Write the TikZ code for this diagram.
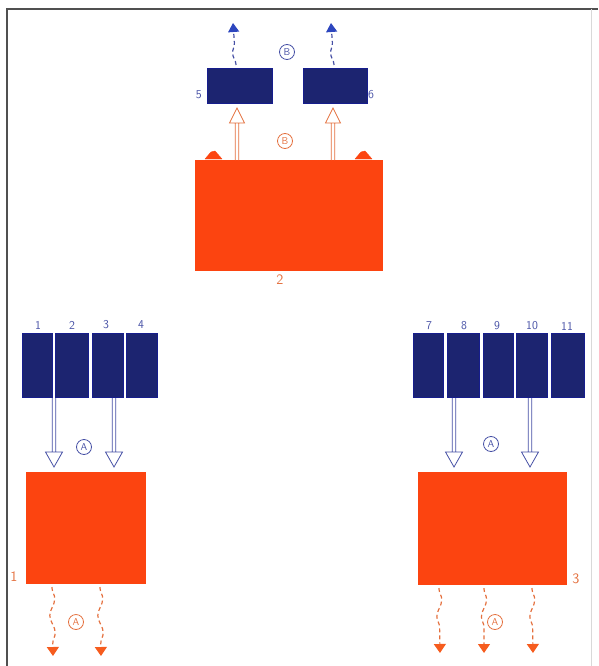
\documentclass[tikz,border=0pt]{standalone}
\usetikzlibrary{arrows.meta,decorations.pathmorphing}
\definecolor{navy}{RGB}{28,36,112}
\definecolor{blueline}{RGB}{70,80,165}
\definecolor{bluetip}{RGB}{45,70,190}
\definecolor{orfill}{RGB}{252,68,16}
\definecolor{orline}{RGB}{228,112,62}
\definecolor{ortip}{RGB}{246,92,30}
\definecolor{frame}{RGB}{80,80,80}
\tikzset{
  bluebox/.style={fill=navy, draw=navy!80!blue, line width=0.6pt, inner sep=0pt},
  orbox/.style={fill=orfill, draw=orfill, inner sep=0pt},
  numb/.style={font=\sffamily\large, text=blueline, inner sep=1pt},
  numo/.style={font=\sffamily\Large, text=orline, inner sep=1pt},
  circb/.style={circle, draw=blueline, text=blueline, line width=0.8pt, font=\sffamily\normalsize, inner sep=0.5pt, minimum size=15pt},
  circo/.style={circle, draw=orline, text=orline, line width=0.8pt, font=\sffamily\normalsize, inner sep=0.5pt, minimum size=15pt},
  hollowdown/.style={line width=0.8pt, fill=white, line join=miter,
    to path={([xshift=-1.7pt]\tikztostart) -- ([xshift=-1.7pt,yshift=15pt]\tikztotarget)
      ([xshift=1.7pt]\tikztostart) -- ([xshift=1.7pt,yshift=15pt]\tikztotarget)
      ([xshift=-8.5pt,yshift=15pt]\tikztotarget) -- (\tikztotarget) -- ([xshift=8.5pt,yshift=15pt]\tikztotarget) -- cycle}},
  hollowup/.style={line width=0.8pt, fill=white, line join=miter,
    to path={([xshift=-1.7pt]\tikztostart) -- ([xshift=-1.7pt,yshift=-15pt]\tikztotarget)
      ([xshift=1.7pt]\tikztostart) -- ([xshift=1.7pt,yshift=-15pt]\tikztotarget)
      ([xshift=-7.5pt,yshift=-15pt]\tikztotarget) -- (\tikztotarget) -- ([xshift=7.5pt,yshift=-15pt]\tikztotarget) -- cycle}},
  wavy/.style={line width=1.2pt, dash pattern=on 4pt off 3pt,
    decorate, decoration={snake, amplitude=2.6pt, segment length=34pt, pre length=1pt, post length=9pt}},
  wavyo/.style={wavy, draw=orline, -{Triangle[length=9pt,width=12pt,color=ortip]}},
  wavyb/.style={wavy, draw=blueline, -{Triangle[length=9pt,width=11pt,color=bluetip]}},
  bump/.style={fill=orfill, draw=orfill, line join=round}
}
\begin{document}
\begin{tikzpicture}[x=1pt,y=-1pt]
\useasboundingbox (0,0) rectangle (598,666);
% frame
\draw[frame, line width=1.4pt] (7,666) -- (7,9) -- (598,9);
\draw[black!15, line width=0.6pt] (591,9) -- (591,666);

% ---------- top group ----------
\node[bluebox, minimum width=65pt, minimum height=35pt] (b5) at (239.5,85.5) {};
\node[bluebox, minimum width=64pt, minimum height=35pt] (b6) at (335,85.5) {};
\node[numb, anchor=east] at (203,95) {5};
\node[numb, anchor=west] at (367,95) {6};
\node[orbox, minimum width=187pt, minimum height=110pt] (o2) at (288.5,215) {};
\node[numo] at (280,280) {2};
% terminals
\draw[bump] (205,159) -- (211,152) -- (215,151) -- (222,159) -- cycle;
\draw[bump] (355,159) -- (361,152) -- (365,151) -- (372,159) -- cycle;
\node[circb] (B1) at (287,52) {B};
\node[circo] (B2) at (285,141) {B};
% hollow arrows up
\coordinate (u1s) at (237,160);
\coordinate (u1e) at (237,108);
\coordinate (u2s) at (333,160);
\coordinate (u2e) at (333,108);
\draw[hollowup, draw=orline] (u1s) to (u1e);
\draw[hollowup, draw=orline] (u2s) to (u2e);
% wavy up
\coordinate (w5s) at (236,65);
\coordinate (w5e) at (233,23);
\coordinate (w6s) at (334,65);
\coordinate (w6e) at (331,23);
\draw[wavyb] (w5s) -- (w5e);
\draw[wavyb] (w6s) -- (w6e);

% ---------- left group ----------
\node[bluebox, minimum width=30pt, minimum height=64pt] (b1) at (37,365) {};
\node[bluebox, minimum width=33pt, minimum height=64pt] (b2) at (71.5,365) {};
\node[bluebox, minimum width=31pt, minimum height=64pt] (b3) at (107.5,365) {};
\node[bluebox, minimum width=31pt, minimum height=64pt] (b4) at (141.5,365) {};
\node[numb] at (38,325) {1};
\node[numb] at (72,325) {2};
\node[numb] at (106,325) {3};
\node[numb] at (141,325) {4};
\coordinate (l1s) at (54,398);
\coordinate (l1e) at (54,467);
\coordinate (l2s) at (114,398);
\coordinate (l2e) at (114,467);
\draw[hollowdown, draw=blueline] (l1s) to (l1e);
\draw[hollowdown, draw=blueline] (l2s) to (l2e);
\node[circb] (A1) at (84,447) {A};
\node[orbox, minimum width=119pt, minimum height=111pt] (o1) at (86,527.5) {};
\node[numo] at (14,577) {1};
\coordinate (lw1s) at (52,587);
\coordinate (lw1e) at (53,656);
\coordinate (lw2s) at (100,587);
\coordinate (lw2e) at (101,656);
\draw[wavyo] (lw1s) -- (lw1e);
\draw[wavyo] (lw2s) -- (lw2e);
\node[circo] (A2) at (76,622) {A};

% ---------- right group ----------
\node[bluebox, minimum width=30pt, minimum height=64pt] (b7) at (428,365) {};
\node[bluebox, minimum width=32pt, minimum height=64pt] (b8) at (463,365) {};
\node[bluebox, minimum width=30pt, minimum height=64pt] (b9) at (498,365) {};
\node[bluebox, minimum width=31pt, minimum height=64pt] (b10) at (531.5,365) {};
\node[bluebox, minimum width=33pt, minimum height=64pt] (b11) at (567.5,365) {};
\node[numb] at (429,326) {7};
\node[numb] at (464,326) {8};
\node[numb] at (497,326) {9};
\node[numb] at (532,326) {10};
\node[numb] at (567,326) {11};
\coordinate (r1s) at (454,398);
\coordinate (r1e) at (454,467);
\coordinate (r2s) at (530,398);
\coordinate (r2e) at (530,467);
\draw[hollowdown, draw=blueline] (r1s) to (r1e);
\draw[hollowdown, draw=blueline] (r2s) to (r2e);
\node[circb] (A3) at (491,444) {A};
\node[orbox, minimum width=148pt, minimum height=112pt] (o3) at (492,528) {};
\node[numo] at (576,579) {3};
\coordinate (rw1s) at (439,588);
\coordinate (rw1e) at (440,653);
\coordinate (rw2s) at (484,588);
\coordinate (rw2e) at (484,653);
\coordinate (rw3s) at (532,588);
\coordinate (rw3e) at (533,653);
\draw[wavyo] (rw1s) -- (rw1e);
\draw[wavyo] (rw2s) -- (rw2e);
\draw[wavyo] (rw3s) -- (rw3e);
\node[circo] (A4) at (495,622) {A};
\end{tikzpicture}
\end{document}
